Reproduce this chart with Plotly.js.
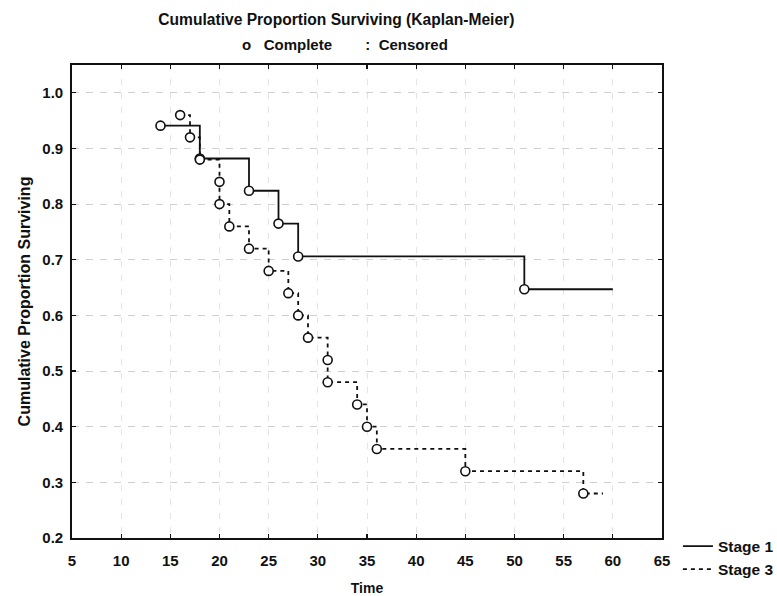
<!DOCTYPE html>
<html>
<head>
<meta charset="utf-8">
<script src="https://cdn.plot.ly/plotly-3.0.1.min.js"></script>
<style>html,body{margin:0;padding:0;background:#fff;}#chart{width:777px;height:596px;}</style>
</head>
<body>
<div id="chart"></div>
<script>
// Stage 1 (solid): event times and cumulative proportion surviving
const stage1Time = [14, 18, 23, 26, 28, 51, 60];
const stage1Surv = [0.941, 0.882, 0.824, 0.765, 0.706, 0.647, 0.647];
const stage1Complete = [true, true, true, true, true, true, false];

// Stage 3 (dashed)
const stage3Time = [16, 17, 18, 20, 20, 21, 23, 25, 27, 28, 29, 31, 31, 34, 35, 36, 45, 57, 59];
const stage3Surv = [0.96, 0.92, 0.88, 0.84, 0.80, 0.76, 0.72, 0.68, 0.64, 0.60, 0.56, 0.52, 0.48, 0.44, 0.40, 0.36, 0.32, 0.28, 0.28];
const stage3Complete = [true, true, true, true, true, true, true, true, true, true, true, true, true, true, true, true, true, true, false];

const xTicks = [5, 10, 15, 20, 25, 30, 35, 40, 45, 50, 55, 60, 65];
const yTicks = [0.2, 0.3, 0.4, 0.5, 0.6, 0.7, 0.8, 0.9, 1.0];
const yTickText = ['0.2', '0.3', '0.4', '0.5', '0.6', '0.7', '0.8', '0.9', '1.0'];

const ink = '#111';
const font = {family: 'Liberation Sans, Arial, sans-serif', color: ink, weight: 'bold'};
function f(size) { return Object.assign({}, font, {size: size}); }

function pick(arr, flags) { return arr.filter((_, i) => flags[i]); }

const traces = [
  {
    x: stage1Time, y: stage1Surv, type: 'scatter', mode: 'lines', name: 'Stage 1',
    line: {shape: 'hv', color: ink, width: 1.8}
  },
  {
    x: stage3Time, y: stage3Surv, type: 'scatter', mode: 'lines', name: 'Stage 3',
    line: {shape: 'hv', color: ink, width: 1.8, dash: '4px,4px'}
  },
  {
    x: pick(stage1Time, stage1Complete), y: pick(stage1Surv, stage1Complete),
    type: 'scatter', mode: 'markers', showlegend: false, hoverinfo: 'skip',
    marker: {symbol: 'circle', size: 9, color: '#fff', line: {color: ink, width: 1.6}}
  },
  {
    x: pick(stage3Time, stage3Complete), y: pick(stage3Surv, stage3Complete),
    type: 'scatter', mode: 'markers', showlegend: false, hoverinfo: 'skip',
    marker: {symbol: 'circle', size: 9, color: '#fff', line: {color: ink, width: 1.6}}
  }
];

const layout = {
  width: 777, height: 596,
  margin: {l: 72, r: 115, t: 65, b: 58, pad: 0, autoexpand: false},
  paper_bgcolor: '#fff', plot_bgcolor: '#fff',
  font: f(15),
  title: {
    text: 'Cumulative Proportion Surviving (Kaplan-Meier)',
    font: f(15.6),
    xref: 'paper', x: 0.448, xanchor: 'center',
    yref: 'container', y: 1 - 20 / 596, yanchor: 'middle'
  },
  annotations: [
    {
      text: 'o   Complete        :  Censored', showarrow: false,
      xref: 'paper', yref: 'paper', x: 0.462, y: 1.044, xanchor: 'center', yanchor: 'middle',
      font: f(15)
    }
  ],
  xaxis: {
    range: [5, 65], tickvals: xTicks, ticktext: xTicks.map(String),
    showline: true, linecolor: ink, linewidth: 1.8, mirror: 'ticks',
    ticks: 'inside', ticklen: 4, tickcolor: ink, tickwidth: 1.2,
    showgrid: true, gridcolor: '#e4e4e4', griddash: '6px,8px', gridwidth: 1,
    zeroline: false, ticklabelstandoff: 8,
    tickfont: f(15),
    title: {text: 'Time', font: f(14), standoff: 16}
  },
  yaxis: {
    range: [0.2, 1.05], tickvals: yTicks, ticktext: yTickText,
    showline: true, linecolor: ink, linewidth: 1.8, mirror: 'ticks',
    ticks: 'inside', ticklen: 4, tickcolor: ink, tickwidth: 1.2,
    showgrid: true, gridcolor: '#d0d0d0', griddash: '7px,7px', gridwidth: 1,
    zeroline: false, ticklabelstandoff: 4,
    tickfont: f(15),
    title: {text: 'Cumulative Proportion Surviving', font: f(16), standoff: 8}
  },
  legend: {
    x: 1.027, xanchor: 'left', y: 0.018, yanchor: 'top',
    bgcolor: 'rgba(0,0,0,0)', borderwidth: 0,
    font: f(15.5),
    itemwidth: 30, tracegroupgap: 0
  },
  showlegend: true
};

Plotly.newPlot('chart', traces, layout, {displayModeBar: false, staticPlot: true});
</script>
</body>
</html>
